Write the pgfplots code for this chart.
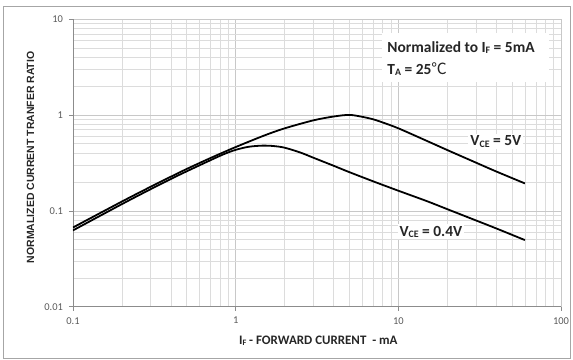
\documentclass[border=0pt]{standalone}
\usepackage{fontspec}
\usepackage{graphicx}
\setmainfont{Carlito}
\newfontfamily\cjk{Noto Sans CJK SC}
\newfontfamily\arialfont{Liberation Sans}
\usepackage{pgfplots}
\usepackage{pgfplotstable}
\pgfplotsset{compat=1.18}

% small, slightly lowered subscript letters
\newcommand\sub[1]{\raisebox{-0.07em}{\scalebox{0.64}{#1}}}

\definecolor{gridmaj}{HTML}{C8C8C8}
\definecolor{gridmin}{HTML}{DCDCDC}
\definecolor{axisgray}{HTML}{8C8C8C}
\definecolor{ticktext}{HTML}{595959}
\definecolor{framegray}{HTML}{A6A6A6}
\definecolor{labeltext}{HTML}{262626}

% Normalized CTR vs forward current, V_CE = 5 V
\pgfplotstableread{
x    y
0.1  0.067
0.2  0.125
0.3  0.178
0.4  0.227
0.5  0.273
0.7  0.355
1    0.462
1.5  0.610
2    0.724
3    0.877
4    0.962
5    1.000
6    0.955
7    0.900
8    0.835
10   0.725
15   0.535
20   0.430
30   0.318
40   0.257
60   0.193
}\ctrhigh

% Normalized CTR vs forward current, V_CE = 0.4 V
\pgfplotstableread{
x    y
0.1  0.0625
0.2  0.1175
0.3  0.168
0.4  0.215
0.5  0.258
0.7  0.337
0.85 0.391
1    0.432
1.2  0.465
1.45 0.478
1.7  0.474
2    0.455
2.5  0.405
3    0.358
4    0.295
5    0.253
7    0.203
10   0.162
15   0.126
20   0.104
30   0.0794
40   0.0655
60   0.0495
}\ctrlow

\begin{document}
\begin{tikzpicture}
\useasboundingbox (-73bp,-53.3bp) rectangle (500bp,306.7bp);
\draw[framegray, line width=0.8pt] (-70bp,-51.8bp) rectangle (497.5bp,300.7bp);
\begin{axis}[
  at={(0,0)}, anchor=south west,
  scale only axis, width=488bp, height=287.7bp,
  xmode=log, ymode=log,
  xmin=0.1, xmax=100, ymin=0.01, ymax=10,
  axis x line=bottom, axis y line=left,
  axis line style={axisgray, line width=0.6pt, -},
  xtick={0.1,1,10,100}, xticklabels={0.1,1,10,100},
  ytick={0.01,0.1,1,10}, yticklabels={0.01,0.1,1,10},
  grid=both,
  major grid style={gridmaj, line width=0.6pt},
  minor grid style={gridmin, line width=0.6pt},
  tick align=outside, major tick length=4bp, minor tick length=0pt,
  tick style={axisgray, line width=0.6pt},
  ticklabel style={font=\fontsize{10.5}{12}\selectfont, text=ticktext},
  xticklabel style={yshift=-3bp},
  yticklabel style={xshift=-2.5bp},
  xlabel={I\sub{F} - FORWARD CURRENT~ - mA},
  ylabel={NORMALIZED CURRENT TRANFER RATIO},
  xlabel style={at={(axis description cs:0.5027,-0.133)}, anchor=base,
                font=\bfseries\fontsize{13}{15}\selectfont, text=labeltext},
  ylabel style={at={(axis description cs:-0.0799,0.519)}, anchor=base,
                font=\arialfont\bfseries\fontsize{10.5}{12}\selectfont, text=labeltext},
]
\addplot[black, line width=1.8pt, smooth] table[x=x, y=y] {\ctrhigh};
\addplot[black, line width=1.8pt, smooth] table[x=x, y=y] {\ctrlow};

\fill[white] (rel axis cs:0.633,0.781) rectangle (rel axis cs:0.975,0.951);
\node[anchor=base west, inner sep=0pt, text=labeltext,
      font=\bfseries\fontsize{15.5}{18}\selectfont]
  at (rel axis cs:0.644,0.885) {Normalized to I\sub{F} = 5mA};
\node[anchor=base west, inner sep=0pt, text=labeltext,
      font=\bfseries\fontsize{15.5}{18}\selectfont]
  at (rel axis cs:0.644,0.806) {T\sub{A} = 25{\cjk\mdseries ℃}};

\node[anchor=base west, fill=white, inner sep=2pt, text=labeltext,
      font=\bfseries\fontsize{15.5}{18}\selectfont]
  at (rel axis cs:0.810,0.5586) {V\sub{CE} = 5V};
\node[anchor=base west, fill=white, inner sep=2pt, text=labeltext,
      font=\bfseries\fontsize{15.5}{18}\selectfont]
  at (rel axis cs:0.6646,0.2457) {V\sub{CE} = 0.4V};
\end{axis}
\end{tikzpicture}
\end{document}
